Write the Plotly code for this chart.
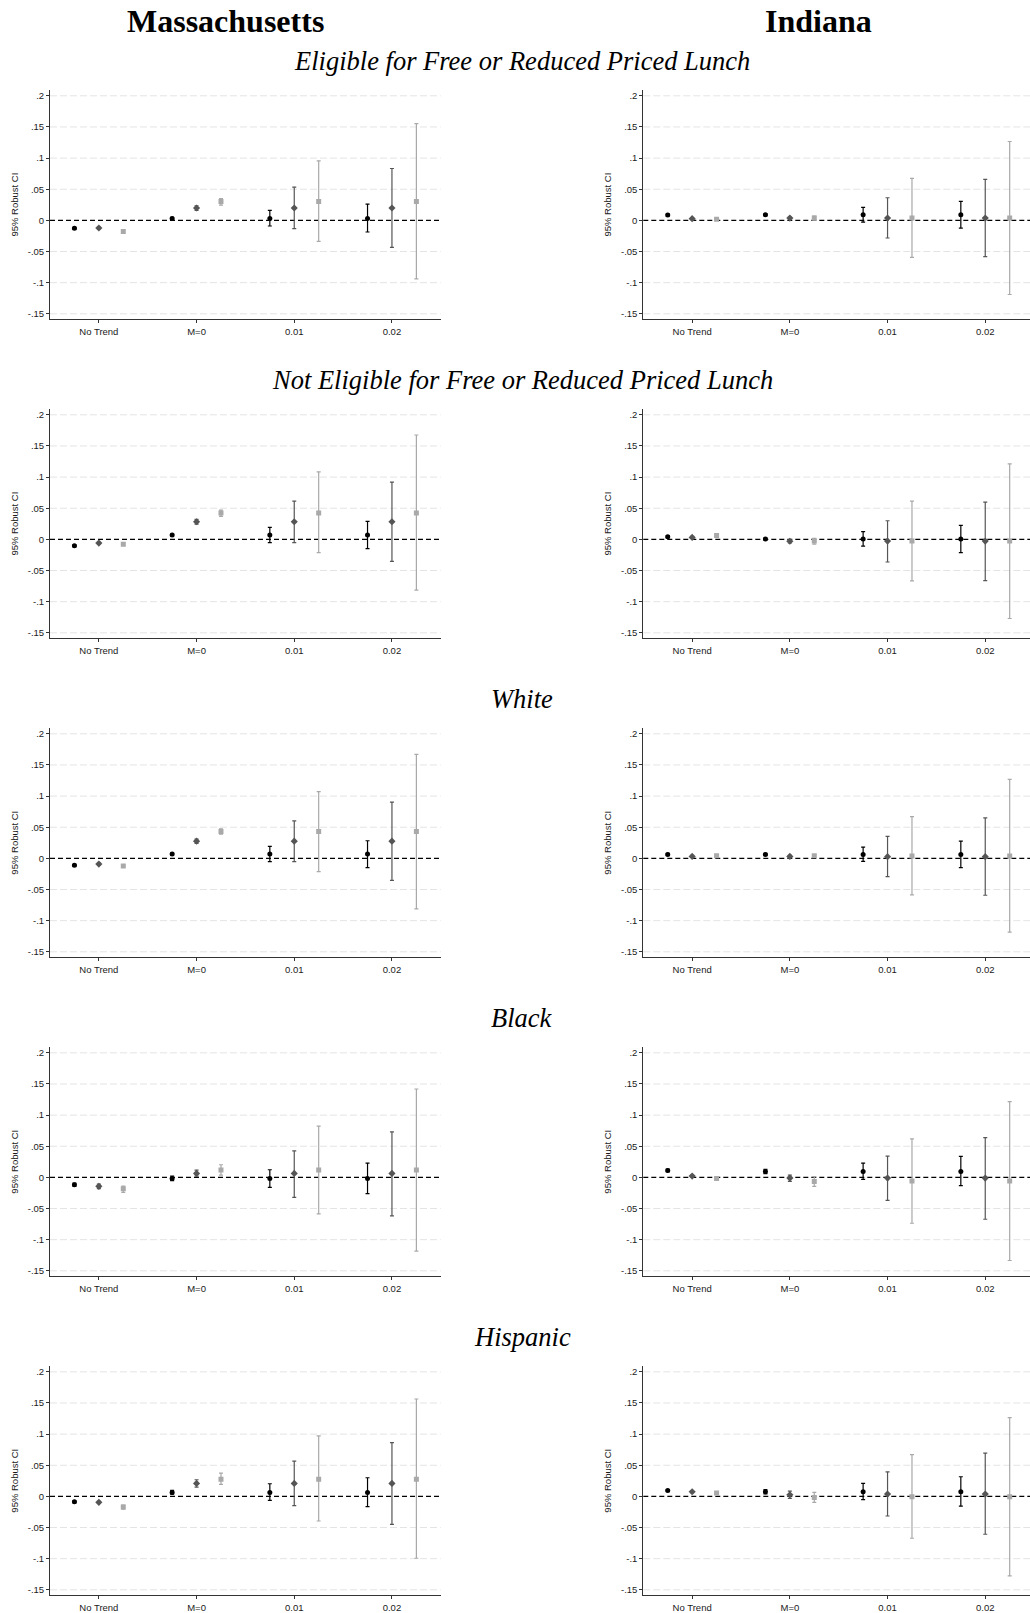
import plotly.graph_objects as go

W, H = 1030, 1613

# ---------------- data ----------------
states = ["Massachusetts", "Indiana"]
groups = [
    "Eligible for Free or Reduced Priced Lunch",
    "Not Eligible for Free or Reduced Priced Lunch",
    "White",
    "Black",
    "Hispanic",
]
categories = ["No Trend", "M=0", "0.01", "0.02"]
cat_pos = [1, 2, 3, 4]
ytick_vals = [-0.15, -0.1, -0.05, 0, 0.05, 0.1, 0.15, 0.2]
ytick_text = ["-.15", "-.1", "-.05", "0", ".05", ".1", ".15", ".2"]
y_title = "95% Robust CI"

# each list: [series1 (black), series2 (dark gray), series3 (light gray)] x 4 categories
ma_frl_est = [[-0.0128, 0.0032, 0.0032, 0.0032], [-0.0123, 0.0198, 0.0198, 0.0198], [-0.0180, 0.0305, 0.0305, 0.0305]]
ma_frl_lo = [[-0.0143, 0.0017, -0.0090, -0.0187], [-0.0138, 0.0160, -0.0134, -0.0433], [-0.0200, 0.0245, -0.0337, -0.0940]]
ma_frl_hi = [[-0.0113, 0.0047, 0.0160, 0.0260], [-0.0108, 0.0235, 0.0534, 0.0833], [-0.0160, 0.0350, 0.0956, 0.1554]]

in_frl_est = [[0.0085, 0.0090, 0.0090, 0.0090], [0.0027, 0.0037, 0.0037, 0.0037], [0.0020, 0.0037, 0.0037, 0.0037]]
in_frl_lo = [[0.0070, 0.0075, -0.0027, -0.0123], [0.0012, 0.0022, -0.0283, -0.0582], [0.0005, 0.0005, -0.0593, -0.1190]]
in_frl_hi = [[0.0100, 0.0105, 0.0208, 0.0304], [0.0042, 0.0052, 0.0363, 0.0657], [0.0035, 0.0070, 0.0673, 0.1266]]

ma_nfrl_est = [[-0.0101, 0.0069, 0.0069, 0.0069], [-0.0059, 0.0283, 0.0283, 0.0283], [-0.0080, 0.0425, 0.0425, 0.0425]]
ma_nfrl_lo = [[-0.0116, 0.0054, -0.0053, -0.0149], [-0.0074, 0.0245, -0.0053, -0.0352], [-0.0095, 0.0370, -0.0213, -0.0816]]
ma_nfrl_hi = [[-0.0086, 0.0084, 0.0192, 0.0288], [-0.0044, 0.0320, 0.0614, 0.0918], [-0.0065, 0.0470, 0.1083, 0.1676]]

in_nfrl_est = [[0.0043, 0.0005, 0.0005, 0.0005], [0.0032, -0.0030, -0.0027, -0.0027], [0.0064, -0.0027, -0.0027, -0.0027]]
in_nfrl_lo = [[0.0028, -0.0010, -0.0107, -0.0213], [0.0017, -0.0055, -0.0363, -0.0662], [0.0049, -0.0075, -0.0667, -0.1270]]
in_nfrl_hi = [[0.0058, 0.0020, 0.0123, 0.0224], [0.0047, -0.0008, 0.0299, 0.0598], [0.0079, 0.0016, 0.0614, 0.1211]]

ma_white_est = [[-0.0112, 0.0069, 0.0069, 0.0069], [-0.0091, 0.0277, 0.0277, 0.0277], [-0.0123, 0.0432, 0.0432, 0.0432]]
ma_white_lo = [[-0.0127, 0.0054, -0.0053, -0.0149], [-0.0106, 0.0240, -0.0053, -0.0352], [-0.0138, 0.0390, -0.0213, -0.0811]]
ma_white_hi = [[-0.0097, 0.0084, 0.0192, 0.0283], [-0.0076, 0.0310, 0.0603, 0.0902], [-0.0108, 0.0475, 0.1073, 0.1670]]

in_white_est = [[0.0064, 0.0064, 0.0064, 0.0064], [0.0032, 0.0032, 0.0027, 0.0027], [0.0043, 0.0043, 0.0037, 0.0037]]
in_white_lo = [[0.0049, 0.0049, -0.0048, -0.0149], [0.0017, 0.0017, -0.0293, -0.0592], [0.0028, 0.0028, -0.0587, -0.1185]]
in_white_hi = [[0.0079, 0.0079, 0.0181, 0.0277], [0.0047, 0.0047, 0.0352, 0.0651], [0.0058, 0.0058, 0.0672, 0.1270]]

ma_black_est = [[-0.0117, -0.0016, -0.0016, -0.0016], [-0.0144, 0.0064, 0.0064, 0.0064], [-0.0181, 0.0117, 0.0117, 0.0117]]
ma_black_lo = [[-0.0142, -0.0053, -0.0160, -0.0261], [-0.0181, 0.0021, -0.0320, -0.0619], [-0.0240, 0.0037, -0.0587, -0.1185]]
ma_black_hi = [[-0.0092, 0.0021, 0.0123, 0.0229], [-0.0107, 0.0117, 0.0427, 0.0731], [-0.0139, 0.0203, 0.0822, 0.1419]]

in_black_est = [[0.0112, 0.0096, 0.0096, 0.0096], [0.0021, -0.0011, -0.0011, -0.0011], [-0.0016, -0.0064, -0.0059, -0.0059]]
in_black_lo = [[0.0092, 0.0059, -0.0032, -0.0133], [0.0006, -0.0064, -0.0368, -0.0672], [-0.0031, -0.0144, -0.0736, -0.1334]]
in_black_hi = [[0.0132, 0.0128, 0.0229, 0.0336], [0.0036, 0.0037, 0.0342, 0.0640], [-0.0001, 0.0011, 0.0619, 0.1217]]

ma_hisp_est = [[-0.0085, 0.0064, 0.0064, 0.0064], [-0.0096, 0.0208, 0.0208, 0.0208], [-0.0171, 0.0277, 0.0277, 0.0277]]
ma_hisp_lo = [[-0.0100, 0.0037, -0.0064, -0.0165], [-0.0111, 0.0149, -0.0149, -0.0448], [-0.0205, 0.0192, -0.0395, -0.0993]]
ma_hisp_hi = [[-0.0070, 0.0096, 0.0203, 0.0299], [-0.0081, 0.0267, 0.0566, 0.0864], [-0.0139, 0.0374, 0.0971, 0.1564]]

in_hisp_est = [[0.0096, 0.0075, 0.0075, 0.0075], [0.0075, 0.0027, 0.0037, 0.0037], [0.0053, -0.0016, -0.0005, -0.0005]]
in_hisp_lo = [[0.0081, 0.0040, -0.0053, -0.0155], [0.0060, -0.0032, -0.0315, -0.0608], [0.0038, -0.0096, -0.0672, -0.1275]]
in_hisp_hi = [[0.0111, 0.0110, 0.0208, 0.0315], [0.0090, 0.0085, 0.0395, 0.0694], [0.0068, 0.0064, 0.0672, 0.1265]]

panels = [
    [(ma_frl_est, ma_frl_lo, ma_frl_hi), (in_frl_est, in_frl_lo, in_frl_hi)],
    [(ma_nfrl_est, ma_nfrl_lo, ma_nfrl_hi), (in_nfrl_est, in_nfrl_lo, in_nfrl_hi)],
    [(ma_white_est, ma_white_lo, ma_white_hi), (in_white_est, in_white_lo, in_white_hi)],
    [(ma_black_est, ma_black_lo, ma_black_hi), (in_black_est, in_black_lo, in_black_hi)],
    [(ma_hisp_est, ma_hisp_lo, ma_hisp_hi), (in_hisp_est, in_hisp_lo, in_hisp_hi)],
]

# ---------------- style ----------------
series_offsets = [-0.25, 0.0, 0.25]
series_colors = ["#000000", "#555555", "#a9a9a9"]
series_symbols = ["circle", "diamond", "square"]
series_sizes = [5, 5.5, 5]
SANS = "Liberation Sans, Arial, sans-serif"
SERIF = "Liberation Serif, Times New Roman, serif"

col_x = [(50, 440.7), (643.3, 1030)]
px_per_cat = 97.7
row_top0, row_bot0, row_step = 90, 320, 319.6
yrange = [-0.159, 0.2096]

fig = go.Figure()
layout = dict(
    width=W, height=H,
    margin=dict(l=0, r=0, t=0, b=0),
    paper_bgcolor="white", plot_bgcolor="white",
    showlegend=False,
    annotations=[], shapes=[],
)

for r in range(len(groups)):
    top = row_top0 + row_step * r
    bot = row_bot0 + row_step * r
    for c in range(2):
        n = r * 2 + c + 1
        xa = "xaxis" if n == 1 else f"xaxis{n}"
        ya = "yaxis" if n == 1 else f"yaxis{n}"
        xr = "x" if n == 1 else f"x{n}"
        yr = "y" if n == 1 else f"y{n}"
        x0, x1 = col_x[c]
        xmax = 0.5 + (x1 - x0) / px_per_cat
        layout[xa] = dict(
            domain=[x0 / W, x1 / W], range=[0.5, xmax], anchor=yr,
            tickvals=cat_pos, ticktext=categories,
            showline=True, linecolor="#333333", linewidth=1,
            ticks="outside", ticklen=3, tickcolor="#333333", tickwidth=1,
            tickfont=dict(family=SANS, size=9.5, color="#1a1a1a"),
            showgrid=False, zeroline=False, fixedrange=True,
        )
        layout[ya] = dict(
            domain=[1 - bot / H, 1 - top / H], range=yrange, anchor=xr,
            tickvals=ytick_vals, ticktext=ytick_text,
            showline=True, linecolor="#333333", linewidth=1,
            ticks="outside", ticklen=3, tickcolor="#333333", tickwidth=1,
            tickfont=dict(family=SANS, size=9.5, color="#1a1a1a"),
            showgrid=False, zeroline=False, fixedrange=True,
        )
        # light dashed gridlines (not at 0, where the reference line sits)
        for tv in ytick_vals:
            if tv == 0:
                continue
            layout["shapes"].append(dict(
                type="line", xref=f"{xr} domain", yref=yr, x0=0, x1=1, y0=tv, y1=tv,
                line=dict(color="#e4e4e4", width=1, dash="7px,3px"), layer="below",
            ))
        # dashed zero reference line
        layout["shapes"].append(dict(
            type="line", xref=f"{xr} domain", yref=yr, x0=0, x1=1, y0=0, y1=0,
            line=dict(color="black", width=1.4, dash="5px,3px"), layer="below",
        ))
        est, lo, hi = panels[r][c]
        for s in range(3):
            xs = [p + series_offsets[s] for p in cat_pos]
            fig.add_trace(go.Scatter(
                x=xs, y=est[s], mode="markers", xaxis=xr, yaxis=yr,
                marker=dict(symbol=series_symbols[s], size=series_sizes[s],
                            color=series_colors[s], line=dict(width=0)),
                error_y=dict(type="data", symmetric=False,
                             array=[h - e for h, e in zip(hi[s], est[s])],
                             arrayminus=[e - l for e, l in zip(est[s], lo[s])],
                             color=series_colors[s], thickness=1.2, width=2),
                hoverinfo="skip",
            ))
        # y-axis title
        ytx = 15 if c == 0 else 608
        layout["annotations"].append(dict(
            text=y_title, x=ytx / W, y=1 - ((top + bot) / 2) / H,
            xref="paper", yref="paper", showarrow=False, textangle=-90,
            font=dict(family=SANS, size=9.5, color="#1a1a1a"),
            xanchor="center", yanchor="middle",
        ))
    # group subtitle
    layout["annotations"].append(dict(
        text=f"<i>{groups[r]}</i>", x=522 / W, y=1 - (61 + row_step * r) / H,
        xref="paper", yref="paper", showarrow=False,
        font=dict(family=SERIF, size=26.5, color="black"),
        xanchor="center", yanchor="middle",
    ))

# state titles
for c, name in enumerate(states):
    cx = 225 if c == 0 else 818
    layout["annotations"].append(dict(
        text=f"<b>{name}</b>", x=cx / W, y=1 - 21 / H,
        xref="paper", yref="paper", showarrow=False,
        font=dict(family=SERIF, size=32, color="black"),
        xanchor="center", yanchor="middle",
    ))

fig.update_layout(**layout)
fig.write_html(
    "out.html",
    config={"displayModeBar": False},
    post_script="document.body.style.margin='0';document.body.style.overflow='hidden';",
)
